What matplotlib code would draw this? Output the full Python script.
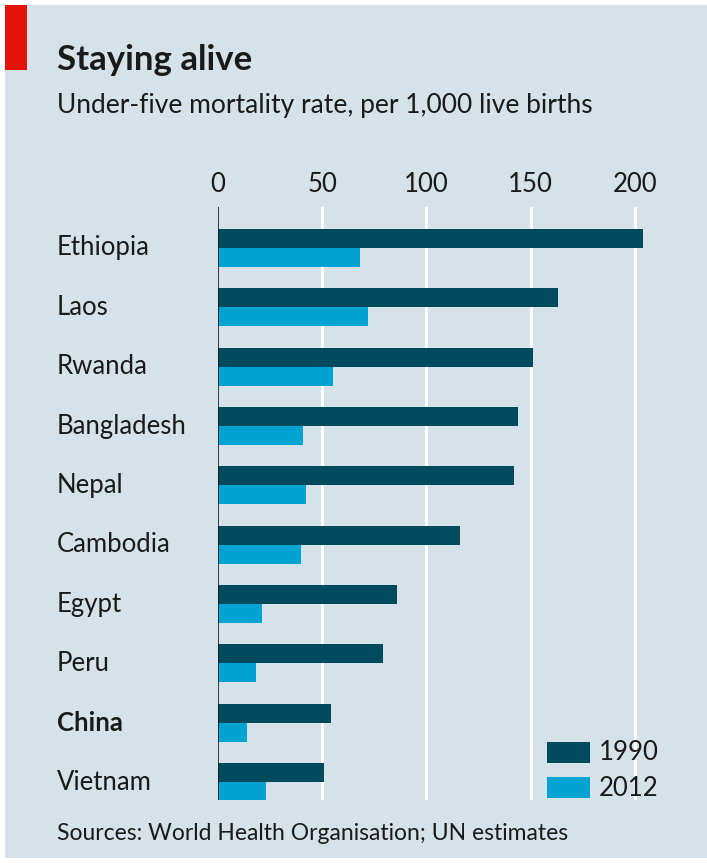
import matplotlib.pyplot as plt
import matplotlib.transforms as mtransforms
from matplotlib.patches import Rectangle

countries = ['Ethiopia', 'Laos', 'Rwanda', 'Bangladesh', 'Nepal',
             'Cambodia', 'Egypt', 'Peru', 'China', 'Vietnam']
rate_1990 = [204, 163, 151, 144, 142, 116, 86, 79, 54, 51]
rate_2012 = [68, 72, 55, 41, 42, 40, 21, 18, 14, 23]
ticks = [0, 50, 100, 150, 200]

bg = '#d5e2e9'
dark = '#004a5e'
light = '#00a3d1'
fnt = 'Lato'

fig = plt.figure(figsize=(7.07, 8.63), dpi=100)
fig.patch.set_facecolor('white')
# panel background with a thin white border
fig.add_artist(Rectangle((5 / 707, 5 / 863), 702 / 707, 853 / 863, transform=fig.transFigure,
                         facecolor=bg, edgecolor='none', zorder=0))
fig.add_artist(Rectangle((5 / 707, 793 / 863), 22 / 707, 65 / 863, transform=fig.transFigure,
                         facecolor='#e3120b', edgecolor='none', zorder=1))

fig.text(57 / 707, 1 - 60 / 863, 'Staying alive', fontsize=25, fontweight='bold',
         family=fnt, color='#1a1a1a', va='center')
fig.text(57 / 707, 1 - 106 / 863, 'Under-five mortality rate, per 1,000 live births',
         fontsize=19, family=fnt, color='#1a1a1a', va='center')
fig.text(57 / 707, 1 - 833 / 863, 'Sources: World Health Organisation; UN estimates',
         fontsize=16.5, family=fnt, color='#1a1a1a', va='center')

ax = fig.add_axes([218 / 707, 63 / 863, 442 / 707, 593 / 863])
ax.set_facecolor('none')
h = 0.32
y = list(range(len(countries)))
ax.barh([v - h / 2 for v in y], rate_1990, height=h, color=dark, zorder=3)
ax.barh([v + h / 2 for v in y], rate_2012, height=h, color=light, zorder=3)
ax.set_xlim(0, 212)
ax.set_ylim(9.30, -0.69)

for t in ticks[1:]:
    ax.axvline(t, color='white', lw=2.2, zorder=1)
ax.axvline(0, color='#1a1a1a', lw=1.2, zorder=4)

for s in ax.spines.values():
    s.set_visible(False)
ax.xaxis.tick_top()
ax.set_xticks(ticks)
ax.set_xticklabels([str(t) for t in ticks], fontsize=18.5, family=fnt, color='#1a1a1a')
ax.tick_params(axis='x', length=0, pad=7)
ax.set_yticks([])

tr = mtransforms.blended_transform_factory(fig.transFigure, ax.transData)
for i, c in enumerate(countries):
    ax.text(57 / 707, i, c, transform=tr, fontsize=18.5, family=fnt, color='#1a1a1a',
            va='center', fontweight='bold' if c == 'China' else 'normal')

# legend
fig.add_artist(Rectangle((547 / 707, 1 - 763 / 863), 43 / 707, 21 / 863, transform=fig.transFigure,
                         facecolor=dark, edgecolor='none'))
fig.add_artist(Rectangle((547 / 707, 1 - 798 / 863), 43 / 707, 21 / 863, transform=fig.transFigure,
                         facecolor=light, edgecolor='none'))
fig.text(599 / 707, 1 - 752 / 863, '1990', fontsize=18.5, family=fnt, color='#1a1a1a', va='center')
fig.text(599 / 707, 1 - 788 / 863, '2012', fontsize=18.5, family=fnt, color='#1a1a1a', va='center')

fig.savefig('out.png', dpi=100)
